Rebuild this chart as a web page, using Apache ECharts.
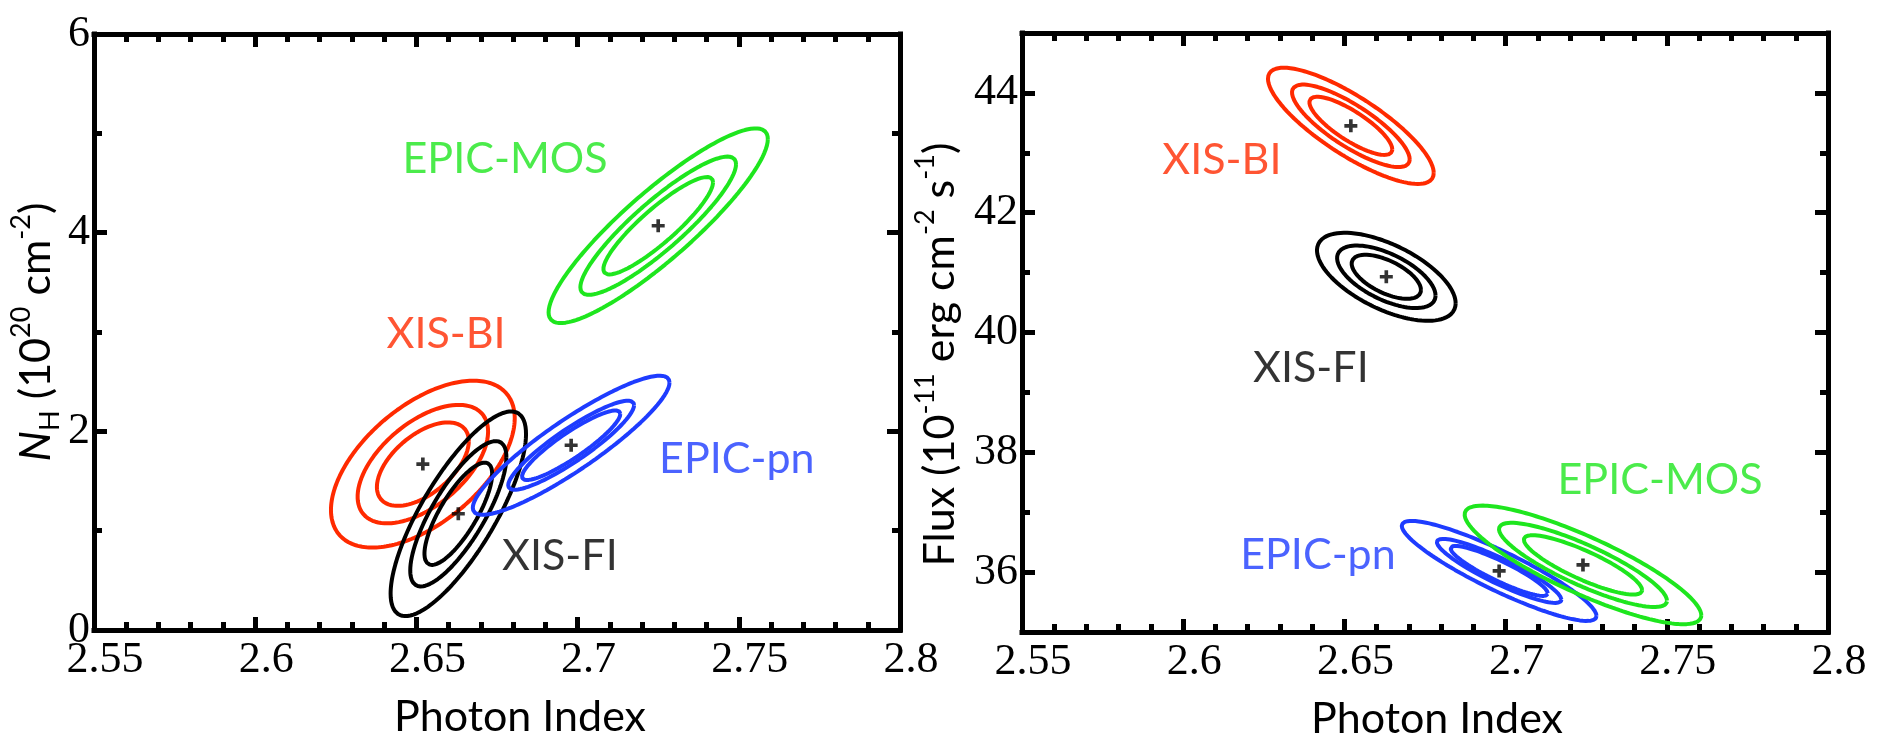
<!DOCTYPE html>
<html><head><meta charset="utf-8">
<script src="https://cdn.jsdelivr.net/npm/echarts@6/dist/echarts.min.js"></script>
<style>html,body{margin:0;padding:0;background:#fff}#c{width:1879px;height:733px}</style>
</head><body><div id="c"></div>
<script>
// ---------------- data ----------------
const instruments = ['XIS-BI', 'XIS-FI', 'EPIC-pn', 'EPIC-MOS'];
// Left panel: Photon Index vs N_H (1e20 cm^-2): best fit and half-extent of outer (99%) contour
const nhBestIndex = [2.652, 2.663, 2.698, 2.725];
const nhBestValue = [1.67, 1.17, 1.86, 4.07];
const nhOuterHalfIndex = [0.0285, 0.021, 0.0305, 0.034];
const nhOuterHalfValue = [0.84, 1.03, 0.70, 0.98];
const nhCorrelation = [0.55, 0.78, 0.90, 0.89];
// Right panel: Photon Index vs Flux (1e-11 erg cm^-2 s^-1)
const fluxBestIndex = [2.652, 2.663, 2.698, 2.724];
const fluxBestValue = [43.45, 40.93, 36.02, 36.12];
const fluxOuterHalfIndex = [0.0257, 0.0215, 0.0302, 0.0367];
const fluxOuterHalfValue = [0.97, 0.735, 0.835, 0.99];
const fluxCorrelation = [-0.81, -0.6, -0.90, -0.85];
// contour levels (68%, 90%, 99%) relative to the outer one
const contourScales = [[0.5, 0.71, 1], [0.5, 0.71, 1], [0.5, 0.64, 1], [0.5, 0.71, 1]];
// tick labels
const xTickLabels = [2.55, 2.6, 2.65, 2.7, 2.75, 2.8];
const nhTickLabels = [0, 2, 4, 6];
const fluxTickLabels = [36, 38, 40, 42, 44];
const fluxMinorTicks = [35, 36, 37, 38, 39, 40, 41, 42, 43, 44, 45];
// annotation anchors (data coordinates)
const nhLabelAt = [[2.6592, 2.98], [2.6945, 0.745], [2.7494, 1.72], [2.6775, 4.74]];
const fluxLabelAt = [[2.612, 42.88], [2.6396, 39.41], [2.6418, 36.29], [2.7479, 37.54]];

// ---------------- styles ----------------
const colors = ['#ff2a00', '#000000', '#1e3cff', '#1ee61e'];
const SERIF = 'Liberation Serif';
const SANS = 'Lato';

function contour(cx, cy, hx, hy, rho, s) {
  const pts = [], n = 200, q = Math.sqrt(1 - rho * rho);
  for (let i = 0; i <= n; i++) {
    const t = 2 * Math.PI * i / n;
    pts.push([cx + s * hx * Math.cos(t), cy + s * hy * (rho * Math.cos(t) + q * Math.sin(t))]);
  }
  return pts;
}

function panelSeries(xi, yi, bx, by, hx, hy, rho, labelAt) {
  const out = [];
  instruments.forEach((name, k) => {
    contourScales[k].forEach(s => {
      out.push({
        type: 'line', xAxisIndex: xi, yAxisIndex: yi, silent: true,
        symbol: 'none', smooth: false, clip: true, z: 3,
        lineStyle: { color: colors[k], width: 4 },
        data: contour(bx[k], by[k], hx[k], hy[k], rho[k], s)
      });
    });
  });
  out.push({
    type: 'scatter', xAxisIndex: xi, yAxisIndex: yi, silent: true, z: 5,
    symbol: 'path://M3.6,0L6.4,0L6.4,3.6L10,3.6L10,6.4L6.4,6.4L6.4,10L3.6,10L3.6,6.4L0,6.4L0,3.6L3.6,3.6Z',
    symbolSize: 13, itemStyle: { color: '#000' },
    data: bx.map((x, k) => [x, by[k]])
  });
  out.push({
    type: 'scatter', xAxisIndex: xi, yAxisIndex: yi, silent: true, z: 6,
    symbol: 'circle', symbolSize: 1, itemStyle: { color: 'rgba(0,0,0,0)' },
    label: {
      show: true, position: 'inside',
      formatter: p => instruments[p.dataIndex],
      fontFamily: SANS, fontSize: 43
    },
    data: labelAt.map((c, k) => ({ value: c, label: { color: colors[k] } }))
  });
  return out;
}

const tickStyle = { width: 5, color: '#000' };
const axisLineStyle = { show: true, onZero: false, lineStyle: { width: 5, color: '#000', cap: 'square' } };

function xAxes(grid, namePad) {
  const base = {
    type: 'value', gridIndex: grid, min: 2.55, max: 2.8, interval: 0.05,
    axisLine: axisLineStyle, splitLine: { show: false },
    axisTick: { show: true, inside: true, length: 13, lineStyle: tickStyle },
    minorTick: { show: true, splitNumber: 5, length: 8, lineStyle: tickStyle },
  };
  return [
    Object.assign({}, base, {
      position: 'bottom',
      axisLabel: {
        show: true, margin: 8, fontFamily: SERIF, fontSize: 44, color: '#000',
        padding: [0, 0, 0, 22],
        formatter: v => { const r = Math.round(v * 100) / 100; return xTickLabels.includes(r) ? String(r) : ''; }
      },
      name: 'Photon Index', nameLocation: 'middle', nameGap: 66,
      nameTextStyle: { fontFamily: SANS, fontSize: 43, color: '#000', padding: [0, 0, 0, namePad] }
    }),
    Object.assign({}, base, { position: 'top', axisLabel: { show: false } })
  ];
}

const option = {
  animation: false,
  backgroundColor: '#fff',
  grid: [
    { left: 94, top: 34, width: 806, height: 596, containLabel: false, outerBoundsMode: 'none' },
    { left: 1022, top: 33, width: 806, height: 599, containLabel: false, outerBoundsMode: 'none' }
  ],
  xAxis: [].concat(xAxes(0, 46), xAxes(1, 24)),
  yAxis: [
    {
      type: 'value', gridIndex: 0, position: 'left', min: 0, max: 6, interval: 2,
      axisLine: axisLineStyle, splitLine: { show: false },
      axisTick: { show: true, inside: true, length: 13, lineStyle: tickStyle },
      minorTick: { show: true, splitNumber: 2, length: 8, lineStyle: tickStyle },
      axisLabel: {
        show: true, margin: 4, fontFamily: SERIF, fontSize: 44, color: '#000',
        formatter: v => nhTickLabels.includes(v) ? String(v) : ''
      },
      name: '{it|N}{sub|H} (10{sup|20} cm{sup|-2})',
      nameLocation: 'middle', nameGap: 28, nameRotate: 90,
      nameTextStyle: {
        fontFamily: SANS, fontSize: 43, color: '#000', lineHeight: 56,
        rich: {
          it: { fontFamily: SANS, fontSize: 43, fontStyle: 'italic', lineHeight: 56, color: '#000' },
          sub: { fontFamily: SANS, fontSize: 27, lineHeight: 40, verticalAlign: 'bottom', color: '#000' },
          sup: { fontFamily: SANS, fontSize: 27, lineHeight: 30, verticalAlign: 'top', color: '#000' }
        }
      }
    },
    {
      type: 'value', gridIndex: 0, position: 'right', min: 0, max: 6, interval: 2,
      axisLine: axisLineStyle, splitLine: { show: false },
      axisTick: { show: true, inside: true, length: 13, lineStyle: tickStyle },
      minorTick: { show: true, splitNumber: 2, length: 8, lineStyle: tickStyle },
      axisLabel: { show: false }
    },
    {
      type: 'value', gridIndex: 1, position: 'left', min: 35, max: 45, interval: 1,
      axisLine: axisLineStyle, splitLine: { show: false },
      axisTick: { show: true, inside: true, length: 13, lineStyle: tickStyle, customValues: fluxTickLabels },
      axisLabel: {
        show: true, margin: 4, fontFamily: SERIF, fontSize: 44, color: '#000',
        customValues: fluxTickLabels
      },
      name: 'Flux (10{sup|-11} erg cm{sup|-2} s{sup|-1})',
      nameLocation: 'middle', nameGap: 54, nameRotate: 90,
      nameTextStyle: {
        fontFamily: SANS, fontSize: 43, color: '#000', lineHeight: 56,
        padding: [0, 44, 0, 0],
        rich: {
          sup: { fontFamily: SANS, fontSize: 27, lineHeight: 30, verticalAlign: 'top', color: '#000' }
        }
      }
    },
    {
      type: 'value', gridIndex: 1, position: 'right', min: 35, max: 45, interval: 1,
      axisLine: axisLineStyle, splitLine: { show: false },
      axisTick: { show: true, inside: true, length: 13, lineStyle: tickStyle, customValues: fluxTickLabels },
      axisLabel: { show: false }
    },
    {
      type: 'value', gridIndex: 1, position: 'left', min: 35, max: 45, interval: 1,
      axisLine: { show: false }, splitLine: { show: false },
      axisTick: { show: true, inside: true, length: 8, lineStyle: tickStyle, customValues: fluxMinorTicks },
      axisLabel: { show: false }
    },
    {
      type: 'value', gridIndex: 1, position: 'right', min: 35, max: 45, interval: 1,
      axisLine: { show: false }, splitLine: { show: false },
      axisTick: { show: true, inside: true, length: 8, lineStyle: tickStyle, customValues: fluxMinorTicks },
      axisLabel: { show: false }
    }
  ],
  series: [].concat(
    panelSeries(0, 0, nhBestIndex, nhBestValue, nhOuterHalfIndex, nhOuterHalfValue, nhCorrelation, nhLabelAt),
    panelSeries(2, 2, fluxBestIndex, fluxBestValue, fluxOuterHalfIndex, fluxOuterHalfValue, fluxCorrelation, fluxLabelAt)
  )
};

const chart = echarts.init(document.getElementById('c'), null, { renderer: 'canvas' });
chart.setOption(option);
</script>
</body></html>
